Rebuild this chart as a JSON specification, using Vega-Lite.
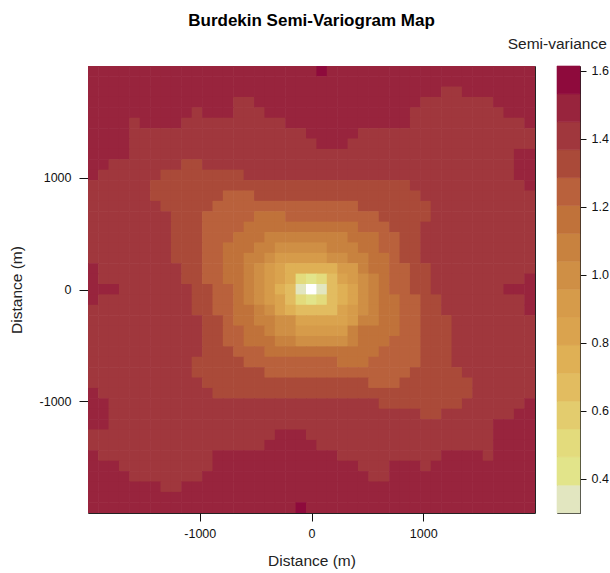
{"$schema":"https://vega.github.io/schema/vega-lite/v6.json","background":"white","padding":{"left":8,"top":11,"right":0,"bottom":0},"spacing":22,"bounds":"flush","config":{"view":{"stroke":"#222","strokeWidth":1},"font":"Liberation Sans","title":{"font":"Liberation Sans"},"axis":{"grid":false,"labelFont":"Liberation Sans","titleFont":"Liberation Sans","labelFontSize":12.5,"titleFontSize":15.5,"titleFontWeight":"normal","tickColor":"#111","tickSize":8,"domain":false,"labelColor":"#111","titleColor":"#222"}},"hconcat":[{"width":447,"height":447,"title":{"text":"Burdekin Semi-Variogram Map","fontSize":17,"fontWeight":"bold","color":"#000","offset":36,"anchor":"middle"},"data":{"values":[
{"x":-1953,"y":1953,"v":1.49},{"x":-1860,"y":1953,"v":1.49},{"x":-1767,"y":1953,"v":1.49},{"x":-1674,"y":1953,"v":1.49},{"x":-1581,"y":1953,"v":1.49},{"x":-1488,"y":1953,"v":1.49},{"x":-1395,"y":1953,"v":1.49},{"x":-1302,"y":1953,"v":1.49},{"x":-1209,"y":1953,"v":1.49},{"x":-1116,"y":1953,"v":1.49},{"x":-1023,"y":1953,"v":1.49},{"x":-930,"y":1953,"v":1.49},{"x":-837,"y":1953,"v":1.49},{"x":-744,"y":1953,"v":1.49},{"x":-651,"y":1953,"v":1.49},{"x":-558,"y":1953,"v":1.49},{"x":-465,"y":1953,"v":1.49},{"x":-372,"y":1953,"v":1.49},{"x":-279,"y":1953,"v":1.49},{"x":-186,"y":1953,"v":1.49},{"x":-93,"y":1953,"v":1.49},{"x":0,"y":1953,"v":1.49},{"x":93,"y":1953,"v":1.57},{"x":186,"y":1953,"v":1.49},{"x":279,"y":1953,"v":1.49},{"x":372,"y":1953,"v":1.49},{"x":465,"y":1953,"v":1.49},{"x":558,"y":1953,"v":1.49},{"x":651,"y":1953,"v":1.49},{"x":744,"y":1953,"v":1.49},{"x":837,"y":1953,"v":1.49},{"x":930,"y":1953,"v":1.49},{"x":1023,"y":1953,"v":1.49},{"x":1116,"y":1953,"v":1.49},{"x":1209,"y":1953,"v":1.49},{"x":1302,"y":1953,"v":1.49},{"x":1395,"y":1953,"v":1.49},{"x":1488,"y":1953,"v":1.49},{"x":1581,"y":1953,"v":1.49},{"x":1674,"y":1953,"v":1.49},{"x":1767,"y":1953,"v":1.49},{"x":1860,"y":1953,"v":1.49},{"x":1953,"y":1953,"v":1.49},
{"x":-1953,"y":1860,"v":1.49},{"x":-1860,"y":1860,"v":1.49},{"x":-1767,"y":1860,"v":1.49},{"x":-1674,"y":1860,"v":1.49},{"x":-1581,"y":1860,"v":1.49},{"x":-1488,"y":1860,"v":1.49},{"x":-1395,"y":1860,"v":1.49},{"x":-1302,"y":1860,"v":1.49},{"x":-1209,"y":1860,"v":1.49},{"x":-1116,"y":1860,"v":1.49},{"x":-1023,"y":1860,"v":1.49},{"x":-930,"y":1860,"v":1.49},{"x":-837,"y":1860,"v":1.49},{"x":-744,"y":1860,"v":1.49},{"x":-651,"y":1860,"v":1.49},{"x":-558,"y":1860,"v":1.49},{"x":-465,"y":1860,"v":1.49},{"x":-372,"y":1860,"v":1.49},{"x":-279,"y":1860,"v":1.49},{"x":-186,"y":1860,"v":1.49},{"x":-93,"y":1860,"v":1.49},{"x":0,"y":1860,"v":1.49},{"x":93,"y":1860,"v":1.49},{"x":186,"y":1860,"v":1.49},{"x":279,"y":1860,"v":1.49},{"x":372,"y":1860,"v":1.49},{"x":465,"y":1860,"v":1.49},{"x":558,"y":1860,"v":1.49},{"x":651,"y":1860,"v":1.49},{"x":744,"y":1860,"v":1.49},{"x":837,"y":1860,"v":1.49},{"x":930,"y":1860,"v":1.49},{"x":1023,"y":1860,"v":1.49},{"x":1116,"y":1860,"v":1.49},{"x":1209,"y":1860,"v":1.49},{"x":1302,"y":1860,"v":1.49},{"x":1395,"y":1860,"v":1.49},{"x":1488,"y":1860,"v":1.49},{"x":1581,"y":1860,"v":1.49},{"x":1674,"y":1860,"v":1.49},{"x":1767,"y":1860,"v":1.49},{"x":1860,"y":1860,"v":1.49},{"x":1953,"y":1860,"v":1.49},
{"x":-1953,"y":1767,"v":1.49},{"x":-1860,"y":1767,"v":1.49},{"x":-1767,"y":1767,"v":1.49},{"x":-1674,"y":1767,"v":1.49},{"x":-1581,"y":1767,"v":1.49},{"x":-1488,"y":1767,"v":1.49},{"x":-1395,"y":1767,"v":1.49},{"x":-1302,"y":1767,"v":1.49},{"x":-1209,"y":1767,"v":1.49},{"x":-1116,"y":1767,"v":1.49},{"x":-1023,"y":1767,"v":1.49},{"x":-930,"y":1767,"v":1.49},{"x":-837,"y":1767,"v":1.49},{"x":-744,"y":1767,"v":1.49},{"x":-651,"y":1767,"v":1.49},{"x":-558,"y":1767,"v":1.49},{"x":-465,"y":1767,"v":1.49},{"x":-372,"y":1767,"v":1.49},{"x":-279,"y":1767,"v":1.49},{"x":-186,"y":1767,"v":1.49},{"x":-93,"y":1767,"v":1.49},{"x":0,"y":1767,"v":1.49},{"x":93,"y":1767,"v":1.49},{"x":186,"y":1767,"v":1.49},{"x":279,"y":1767,"v":1.49},{"x":372,"y":1767,"v":1.49},{"x":465,"y":1767,"v":1.49},{"x":558,"y":1767,"v":1.49},{"x":651,"y":1767,"v":1.49},{"x":744,"y":1767,"v":1.49},{"x":837,"y":1767,"v":1.49},{"x":930,"y":1767,"v":1.49},{"x":1023,"y":1767,"v":1.49},{"x":1116,"y":1767,"v":1.49},{"x":1209,"y":1767,"v":1.41},{"x":1302,"y":1767,"v":1.41},{"x":1395,"y":1767,"v":1.49},{"x":1488,"y":1767,"v":1.49},{"x":1581,"y":1767,"v":1.49},{"x":1674,"y":1767,"v":1.49},{"x":1767,"y":1767,"v":1.49},{"x":1860,"y":1767,"v":1.49},{"x":1953,"y":1767,"v":1.49},
{"x":-1953,"y":1674,"v":1.49},{"x":-1860,"y":1674,"v":1.49},{"x":-1767,"y":1674,"v":1.49},{"x":-1674,"y":1674,"v":1.49},{"x":-1581,"y":1674,"v":1.49},{"x":-1488,"y":1674,"v":1.49},{"x":-1395,"y":1674,"v":1.49},{"x":-1302,"y":1674,"v":1.49},{"x":-1209,"y":1674,"v":1.49},{"x":-1116,"y":1674,"v":1.49},{"x":-1023,"y":1674,"v":1.49},{"x":-930,"y":1674,"v":1.49},{"x":-837,"y":1674,"v":1.49},{"x":-744,"y":1674,"v":1.49},{"x":-651,"y":1674,"v":1.41},{"x":-558,"y":1674,"v":1.41},{"x":-465,"y":1674,"v":1.49},{"x":-372,"y":1674,"v":1.49},{"x":-279,"y":1674,"v":1.49},{"x":-186,"y":1674,"v":1.49},{"x":-93,"y":1674,"v":1.49},{"x":0,"y":1674,"v":1.49},{"x":93,"y":1674,"v":1.49},{"x":186,"y":1674,"v":1.49},{"x":279,"y":1674,"v":1.49},{"x":372,"y":1674,"v":1.49},{"x":465,"y":1674,"v":1.49},{"x":558,"y":1674,"v":1.49},{"x":651,"y":1674,"v":1.49},{"x":744,"y":1674,"v":1.49},{"x":837,"y":1674,"v":1.49},{"x":930,"y":1674,"v":1.49},{"x":1023,"y":1674,"v":1.41},{"x":1116,"y":1674,"v":1.41},{"x":1209,"y":1674,"v":1.41},{"x":1302,"y":1674,"v":1.41},{"x":1395,"y":1674,"v":1.41},{"x":1488,"y":1674,"v":1.41},{"x":1581,"y":1674,"v":1.41},{"x":1674,"y":1674,"v":1.49},{"x":1767,"y":1674,"v":1.49},{"x":1860,"y":1674,"v":1.49},{"x":1953,"y":1674,"v":1.49},
{"x":-1953,"y":1581,"v":1.49},{"x":-1860,"y":1581,"v":1.49},{"x":-1767,"y":1581,"v":1.49},{"x":-1674,"y":1581,"v":1.49},{"x":-1581,"y":1581,"v":1.49},{"x":-1488,"y":1581,"v":1.49},{"x":-1395,"y":1581,"v":1.49},{"x":-1302,"y":1581,"v":1.49},{"x":-1209,"y":1581,"v":1.49},{"x":-1116,"y":1581,"v":1.49},{"x":-1023,"y":1581,"v":1.41},{"x":-930,"y":1581,"v":1.49},{"x":-837,"y":1581,"v":1.49},{"x":-744,"y":1581,"v":1.49},{"x":-651,"y":1581,"v":1.41},{"x":-558,"y":1581,"v":1.41},{"x":-465,"y":1581,"v":1.41},{"x":-372,"y":1581,"v":1.49},{"x":-279,"y":1581,"v":1.49},{"x":-186,"y":1581,"v":1.49},{"x":-93,"y":1581,"v":1.49},{"x":0,"y":1581,"v":1.49},{"x":93,"y":1581,"v":1.49},{"x":186,"y":1581,"v":1.49},{"x":279,"y":1581,"v":1.49},{"x":372,"y":1581,"v":1.49},{"x":465,"y":1581,"v":1.49},{"x":558,"y":1581,"v":1.49},{"x":651,"y":1581,"v":1.49},{"x":744,"y":1581,"v":1.49},{"x":837,"y":1581,"v":1.49},{"x":930,"y":1581,"v":1.41},{"x":1023,"y":1581,"v":1.41},{"x":1116,"y":1581,"v":1.41},{"x":1209,"y":1581,"v":1.41},{"x":1302,"y":1581,"v":1.41},{"x":1395,"y":1581,"v":1.41},{"x":1488,"y":1581,"v":1.41},{"x":1581,"y":1581,"v":1.41},{"x":1674,"y":1581,"v":1.41},{"x":1767,"y":1581,"v":1.49},{"x":1860,"y":1581,"v":1.49},{"x":1953,"y":1581,"v":1.49},
{"x":-1953,"y":1488,"v":1.49},{"x":-1860,"y":1488,"v":1.49},{"x":-1767,"y":1488,"v":1.49},{"x":-1674,"y":1488,"v":1.49},{"x":-1581,"y":1488,"v":1.41},{"x":-1488,"y":1488,"v":1.49},{"x":-1395,"y":1488,"v":1.49},{"x":-1302,"y":1488,"v":1.49},{"x":-1209,"y":1488,"v":1.49},{"x":-1116,"y":1488,"v":1.41},{"x":-1023,"y":1488,"v":1.41},{"x":-930,"y":1488,"v":1.41},{"x":-837,"y":1488,"v":1.41},{"x":-744,"y":1488,"v":1.41},{"x":-651,"y":1488,"v":1.41},{"x":-558,"y":1488,"v":1.41},{"x":-465,"y":1488,"v":1.41},{"x":-372,"y":1488,"v":1.41},{"x":-279,"y":1488,"v":1.41},{"x":-186,"y":1488,"v":1.49},{"x":-93,"y":1488,"v":1.49},{"x":0,"y":1488,"v":1.49},{"x":93,"y":1488,"v":1.49},{"x":186,"y":1488,"v":1.49},{"x":279,"y":1488,"v":1.49},{"x":372,"y":1488,"v":1.49},{"x":465,"y":1488,"v":1.49},{"x":558,"y":1488,"v":1.49},{"x":651,"y":1488,"v":1.49},{"x":744,"y":1488,"v":1.49},{"x":837,"y":1488,"v":1.49},{"x":930,"y":1488,"v":1.41},{"x":1023,"y":1488,"v":1.41},{"x":1116,"y":1488,"v":1.41},{"x":1209,"y":1488,"v":1.41},{"x":1302,"y":1488,"v":1.41},{"x":1395,"y":1488,"v":1.41},{"x":1488,"y":1488,"v":1.41},{"x":1581,"y":1488,"v":1.41},{"x":1674,"y":1488,"v":1.41},{"x":1767,"y":1488,"v":1.41},{"x":1860,"y":1488,"v":1.41},{"x":1953,"y":1488,"v":1.49},
{"x":-1953,"y":1395,"v":1.49},{"x":-1860,"y":1395,"v":1.49},{"x":-1767,"y":1395,"v":1.49},{"x":-1674,"y":1395,"v":1.49},{"x":-1581,"y":1395,"v":1.41},{"x":-1488,"y":1395,"v":1.41},{"x":-1395,"y":1395,"v":1.41},{"x":-1302,"y":1395,"v":1.41},{"x":-1209,"y":1395,"v":1.41},{"x":-1116,"y":1395,"v":1.41},{"x":-1023,"y":1395,"v":1.41},{"x":-930,"y":1395,"v":1.41},{"x":-837,"y":1395,"v":1.41},{"x":-744,"y":1395,"v":1.41},{"x":-651,"y":1395,"v":1.41},{"x":-558,"y":1395,"v":1.41},{"x":-465,"y":1395,"v":1.41},{"x":-372,"y":1395,"v":1.41},{"x":-279,"y":1395,"v":1.41},{"x":-186,"y":1395,"v":1.41},{"x":-93,"y":1395,"v":1.41},{"x":0,"y":1395,"v":1.49},{"x":93,"y":1395,"v":1.49},{"x":186,"y":1395,"v":1.49},{"x":279,"y":1395,"v":1.49},{"x":372,"y":1395,"v":1.49},{"x":465,"y":1395,"v":1.41},{"x":558,"y":1395,"v":1.41},{"x":651,"y":1395,"v":1.41},{"x":744,"y":1395,"v":1.41},{"x":837,"y":1395,"v":1.41},{"x":930,"y":1395,"v":1.41},{"x":1023,"y":1395,"v":1.41},{"x":1116,"y":1395,"v":1.41},{"x":1209,"y":1395,"v":1.41},{"x":1302,"y":1395,"v":1.41},{"x":1395,"y":1395,"v":1.41},{"x":1488,"y":1395,"v":1.41},{"x":1581,"y":1395,"v":1.41},{"x":1674,"y":1395,"v":1.41},{"x":1767,"y":1395,"v":1.41},{"x":1860,"y":1395,"v":1.41},{"x":1953,"y":1395,"v":1.41},
{"x":-1953,"y":1302,"v":1.49},{"x":-1860,"y":1302,"v":1.49},{"x":-1767,"y":1302,"v":1.49},{"x":-1674,"y":1302,"v":1.49},{"x":-1581,"y":1302,"v":1.41},{"x":-1488,"y":1302,"v":1.41},{"x":-1395,"y":1302,"v":1.41},{"x":-1302,"y":1302,"v":1.41},{"x":-1209,"y":1302,"v":1.41},{"x":-1116,"y":1302,"v":1.41},{"x":-1023,"y":1302,"v":1.41},{"x":-930,"y":1302,"v":1.41},{"x":-837,"y":1302,"v":1.41},{"x":-744,"y":1302,"v":1.41},{"x":-651,"y":1302,"v":1.41},{"x":-558,"y":1302,"v":1.41},{"x":-465,"y":1302,"v":1.41},{"x":-372,"y":1302,"v":1.41},{"x":-279,"y":1302,"v":1.41},{"x":-186,"y":1302,"v":1.41},{"x":-93,"y":1302,"v":1.41},{"x":0,"y":1302,"v":1.41},{"x":93,"y":1302,"v":1.49},{"x":186,"y":1302,"v":1.49},{"x":279,"y":1302,"v":1.49},{"x":372,"y":1302,"v":1.41},{"x":465,"y":1302,"v":1.41},{"x":558,"y":1302,"v":1.41},{"x":651,"y":1302,"v":1.41},{"x":744,"y":1302,"v":1.41},{"x":837,"y":1302,"v":1.41},{"x":930,"y":1302,"v":1.41},{"x":1023,"y":1302,"v":1.41},{"x":1116,"y":1302,"v":1.41},{"x":1209,"y":1302,"v":1.41},{"x":1302,"y":1302,"v":1.41},{"x":1395,"y":1302,"v":1.41},{"x":1488,"y":1302,"v":1.41},{"x":1581,"y":1302,"v":1.41},{"x":1674,"y":1302,"v":1.41},{"x":1767,"y":1302,"v":1.41},{"x":1860,"y":1302,"v":1.41},{"x":1953,"y":1302,"v":1.41},
{"x":-1953,"y":1209,"v":1.49},{"x":-1860,"y":1209,"v":1.49},{"x":-1767,"y":1209,"v":1.49},{"x":-1674,"y":1209,"v":1.49},{"x":-1581,"y":1209,"v":1.41},{"x":-1488,"y":1209,"v":1.41},{"x":-1395,"y":1209,"v":1.41},{"x":-1302,"y":1209,"v":1.41},{"x":-1209,"y":1209,"v":1.41},{"x":-1116,"y":1209,"v":1.41},{"x":-1023,"y":1209,"v":1.41},{"x":-930,"y":1209,"v":1.41},{"x":-837,"y":1209,"v":1.41},{"x":-744,"y":1209,"v":1.41},{"x":-651,"y":1209,"v":1.41},{"x":-558,"y":1209,"v":1.41},{"x":-465,"y":1209,"v":1.41},{"x":-372,"y":1209,"v":1.41},{"x":-279,"y":1209,"v":1.41},{"x":-186,"y":1209,"v":1.41},{"x":-93,"y":1209,"v":1.41},{"x":0,"y":1209,"v":1.41},{"x":93,"y":1209,"v":1.41},{"x":186,"y":1209,"v":1.41},{"x":279,"y":1209,"v":1.41},{"x":372,"y":1209,"v":1.41},{"x":465,"y":1209,"v":1.41},{"x":558,"y":1209,"v":1.41},{"x":651,"y":1209,"v":1.41},{"x":744,"y":1209,"v":1.41},{"x":837,"y":1209,"v":1.41},{"x":930,"y":1209,"v":1.41},{"x":1023,"y":1209,"v":1.41},{"x":1116,"y":1209,"v":1.41},{"x":1209,"y":1209,"v":1.41},{"x":1302,"y":1209,"v":1.41},{"x":1395,"y":1209,"v":1.41},{"x":1488,"y":1209,"v":1.41},{"x":1581,"y":1209,"v":1.41},{"x":1674,"y":1209,"v":1.41},{"x":1767,"y":1209,"v":1.41},{"x":1860,"y":1209,"v":1.49},{"x":1953,"y":1209,"v":1.49},
{"x":-1953,"y":1116,"v":1.49},{"x":-1860,"y":1116,"v":1.49},{"x":-1767,"y":1116,"v":1.41},{"x":-1674,"y":1116,"v":1.41},{"x":-1581,"y":1116,"v":1.41},{"x":-1488,"y":1116,"v":1.41},{"x":-1395,"y":1116,"v":1.41},{"x":-1302,"y":1116,"v":1.41},{"x":-1209,"y":1116,"v":1.41},{"x":-1116,"y":1116,"v":1.33},{"x":-1023,"y":1116,"v":1.33},{"x":-930,"y":1116,"v":1.41},{"x":-837,"y":1116,"v":1.41},{"x":-744,"y":1116,"v":1.41},{"x":-651,"y":1116,"v":1.41},{"x":-558,"y":1116,"v":1.41},{"x":-465,"y":1116,"v":1.41},{"x":-372,"y":1116,"v":1.41},{"x":-279,"y":1116,"v":1.41},{"x":-186,"y":1116,"v":1.41},{"x":-93,"y":1116,"v":1.41},{"x":0,"y":1116,"v":1.41},{"x":93,"y":1116,"v":1.41},{"x":186,"y":1116,"v":1.41},{"x":279,"y":1116,"v":1.41},{"x":372,"y":1116,"v":1.41},{"x":465,"y":1116,"v":1.41},{"x":558,"y":1116,"v":1.41},{"x":651,"y":1116,"v":1.41},{"x":744,"y":1116,"v":1.41},{"x":837,"y":1116,"v":1.41},{"x":930,"y":1116,"v":1.41},{"x":1023,"y":1116,"v":1.41},{"x":1116,"y":1116,"v":1.41},{"x":1209,"y":1116,"v":1.41},{"x":1302,"y":1116,"v":1.41},{"x":1395,"y":1116,"v":1.41},{"x":1488,"y":1116,"v":1.41},{"x":1581,"y":1116,"v":1.41},{"x":1674,"y":1116,"v":1.41},{"x":1767,"y":1116,"v":1.41},{"x":1860,"y":1116,"v":1.49},{"x":1953,"y":1116,"v":1.49},
{"x":-1953,"y":1023,"v":1.49},{"x":-1860,"y":1023,"v":1.41},{"x":-1767,"y":1023,"v":1.41},{"x":-1674,"y":1023,"v":1.41},{"x":-1581,"y":1023,"v":1.41},{"x":-1488,"y":1023,"v":1.41},{"x":-1395,"y":1023,"v":1.41},{"x":-1302,"y":1023,"v":1.33},{"x":-1209,"y":1023,"v":1.33},{"x":-1116,"y":1023,"v":1.33},{"x":-1023,"y":1023,"v":1.33},{"x":-930,"y":1023,"v":1.33},{"x":-837,"y":1023,"v":1.33},{"x":-744,"y":1023,"v":1.33},{"x":-651,"y":1023,"v":1.33},{"x":-558,"y":1023,"v":1.41},{"x":-465,"y":1023,"v":1.41},{"x":-372,"y":1023,"v":1.41},{"x":-279,"y":1023,"v":1.41},{"x":-186,"y":1023,"v":1.41},{"x":-93,"y":1023,"v":1.41},{"x":0,"y":1023,"v":1.41},{"x":93,"y":1023,"v":1.41},{"x":186,"y":1023,"v":1.41},{"x":279,"y":1023,"v":1.41},{"x":372,"y":1023,"v":1.41},{"x":465,"y":1023,"v":1.41},{"x":558,"y":1023,"v":1.41},{"x":651,"y":1023,"v":1.41},{"x":744,"y":1023,"v":1.41},{"x":837,"y":1023,"v":1.41},{"x":930,"y":1023,"v":1.41},{"x":1023,"y":1023,"v":1.41},{"x":1116,"y":1023,"v":1.41},{"x":1209,"y":1023,"v":1.41},{"x":1302,"y":1023,"v":1.41},{"x":1395,"y":1023,"v":1.41},{"x":1488,"y":1023,"v":1.41},{"x":1581,"y":1023,"v":1.41},{"x":1674,"y":1023,"v":1.41},{"x":1767,"y":1023,"v":1.41},{"x":1860,"y":1023,"v":1.49},{"x":1953,"y":1023,"v":1.49},
{"x":-1953,"y":930,"v":1.41},{"x":-1860,"y":930,"v":1.41},{"x":-1767,"y":930,"v":1.41},{"x":-1674,"y":930,"v":1.41},{"x":-1581,"y":930,"v":1.41},{"x":-1488,"y":930,"v":1.41},{"x":-1395,"y":930,"v":1.33},{"x":-1302,"y":930,"v":1.33},{"x":-1209,"y":930,"v":1.33},{"x":-1116,"y":930,"v":1.33},{"x":-1023,"y":930,"v":1.33},{"x":-930,"y":930,"v":1.33},{"x":-837,"y":930,"v":1.33},{"x":-744,"y":930,"v":1.33},{"x":-651,"y":930,"v":1.33},{"x":-558,"y":930,"v":1.33},{"x":-465,"y":930,"v":1.33},{"x":-372,"y":930,"v":1.33},{"x":-279,"y":930,"v":1.33},{"x":-186,"y":930,"v":1.33},{"x":-93,"y":930,"v":1.33},{"x":0,"y":930,"v":1.33},{"x":93,"y":930,"v":1.33},{"x":186,"y":930,"v":1.33},{"x":279,"y":930,"v":1.33},{"x":372,"y":930,"v":1.33},{"x":465,"y":930,"v":1.33},{"x":558,"y":930,"v":1.33},{"x":651,"y":930,"v":1.33},{"x":744,"y":930,"v":1.33},{"x":837,"y":930,"v":1.33},{"x":930,"y":930,"v":1.41},{"x":1023,"y":930,"v":1.41},{"x":1116,"y":930,"v":1.41},{"x":1209,"y":930,"v":1.41},{"x":1302,"y":930,"v":1.41},{"x":1395,"y":930,"v":1.41},{"x":1488,"y":930,"v":1.41},{"x":1581,"y":930,"v":1.41},{"x":1674,"y":930,"v":1.41},{"x":1767,"y":930,"v":1.41},{"x":1860,"y":930,"v":1.41},{"x":1953,"y":930,"v":1.49},
{"x":-1953,"y":837,"v":1.41},{"x":-1860,"y":837,"v":1.41},{"x":-1767,"y":837,"v":1.41},{"x":-1674,"y":837,"v":1.41},{"x":-1581,"y":837,"v":1.41},{"x":-1488,"y":837,"v":1.41},{"x":-1395,"y":837,"v":1.33},{"x":-1302,"y":837,"v":1.33},{"x":-1209,"y":837,"v":1.33},{"x":-1116,"y":837,"v":1.33},{"x":-1023,"y":837,"v":1.33},{"x":-930,"y":837,"v":1.33},{"x":-837,"y":837,"v":1.33},{"x":-744,"y":837,"v":1.25},{"x":-651,"y":837,"v":1.25},{"x":-558,"y":837,"v":1.25},{"x":-465,"y":837,"v":1.33},{"x":-372,"y":837,"v":1.33},{"x":-279,"y":837,"v":1.33},{"x":-186,"y":837,"v":1.33},{"x":-93,"y":837,"v":1.33},{"x":0,"y":837,"v":1.33},{"x":93,"y":837,"v":1.33},{"x":186,"y":837,"v":1.33},{"x":279,"y":837,"v":1.33},{"x":372,"y":837,"v":1.33},{"x":465,"y":837,"v":1.33},{"x":558,"y":837,"v":1.33},{"x":651,"y":837,"v":1.33},{"x":744,"y":837,"v":1.33},{"x":837,"y":837,"v":1.33},{"x":930,"y":837,"v":1.33},{"x":1023,"y":837,"v":1.41},{"x":1116,"y":837,"v":1.41},{"x":1209,"y":837,"v":1.41},{"x":1302,"y":837,"v":1.41},{"x":1395,"y":837,"v":1.41},{"x":1488,"y":837,"v":1.41},{"x":1581,"y":837,"v":1.41},{"x":1674,"y":837,"v":1.41},{"x":1767,"y":837,"v":1.41},{"x":1860,"y":837,"v":1.41},{"x":1953,"y":837,"v":1.41},
{"x":-1953,"y":744,"v":1.41},{"x":-1860,"y":744,"v":1.41},{"x":-1767,"y":744,"v":1.41},{"x":-1674,"y":744,"v":1.41},{"x":-1581,"y":744,"v":1.41},{"x":-1488,"y":744,"v":1.41},{"x":-1395,"y":744,"v":1.41},{"x":-1302,"y":744,"v":1.33},{"x":-1209,"y":744,"v":1.33},{"x":-1116,"y":744,"v":1.33},{"x":-1023,"y":744,"v":1.33},{"x":-930,"y":744,"v":1.33},{"x":-837,"y":744,"v":1.25},{"x":-744,"y":744,"v":1.25},{"x":-651,"y":744,"v":1.25},{"x":-558,"y":744,"v":1.25},{"x":-465,"y":744,"v":1.25},{"x":-372,"y":744,"v":1.25},{"x":-279,"y":744,"v":1.25},{"x":-186,"y":744,"v":1.25},{"x":-93,"y":744,"v":1.25},{"x":0,"y":744,"v":1.25},{"x":93,"y":744,"v":1.25},{"x":186,"y":744,"v":1.25},{"x":279,"y":744,"v":1.25},{"x":372,"y":744,"v":1.25},{"x":465,"y":744,"v":1.33},{"x":558,"y":744,"v":1.33},{"x":651,"y":744,"v":1.33},{"x":744,"y":744,"v":1.33},{"x":837,"y":744,"v":1.33},{"x":930,"y":744,"v":1.33},{"x":1023,"y":744,"v":1.33},{"x":1116,"y":744,"v":1.41},{"x":1209,"y":744,"v":1.41},{"x":1302,"y":744,"v":1.41},{"x":1395,"y":744,"v":1.41},{"x":1488,"y":744,"v":1.41},{"x":1581,"y":744,"v":1.41},{"x":1674,"y":744,"v":1.41},{"x":1767,"y":744,"v":1.41},{"x":1860,"y":744,"v":1.41},{"x":1953,"y":744,"v":1.41},
{"x":-1953,"y":651,"v":1.41},{"x":-1860,"y":651,"v":1.41},{"x":-1767,"y":651,"v":1.41},{"x":-1674,"y":651,"v":1.41},{"x":-1581,"y":651,"v":1.41},{"x":-1488,"y":651,"v":1.41},{"x":-1395,"y":651,"v":1.41},{"x":-1302,"y":651,"v":1.41},{"x":-1209,"y":651,"v":1.33},{"x":-1116,"y":651,"v":1.33},{"x":-1023,"y":651,"v":1.33},{"x":-930,"y":651,"v":1.25},{"x":-837,"y":651,"v":1.25},{"x":-744,"y":651,"v":1.25},{"x":-651,"y":651,"v":1.25},{"x":-558,"y":651,"v":1.25},{"x":-465,"y":651,"v":1.16},{"x":-372,"y":651,"v":1.16},{"x":-279,"y":651,"v":1.16},{"x":-186,"y":651,"v":1.25},{"x":-93,"y":651,"v":1.25},{"x":0,"y":651,"v":1.25},{"x":93,"y":651,"v":1.25},{"x":186,"y":651,"v":1.25},{"x":279,"y":651,"v":1.25},{"x":372,"y":651,"v":1.25},{"x":465,"y":651,"v":1.25},{"x":558,"y":651,"v":1.25},{"x":651,"y":651,"v":1.33},{"x":744,"y":651,"v":1.33},{"x":837,"y":651,"v":1.33},{"x":930,"y":651,"v":1.33},{"x":1023,"y":651,"v":1.33},{"x":1116,"y":651,"v":1.41},{"x":1209,"y":651,"v":1.41},{"x":1302,"y":651,"v":1.41},{"x":1395,"y":651,"v":1.41},{"x":1488,"y":651,"v":1.41},{"x":1581,"y":651,"v":1.41},{"x":1674,"y":651,"v":1.41},{"x":1767,"y":651,"v":1.41},{"x":1860,"y":651,"v":1.41},{"x":1953,"y":651,"v":1.41},
{"x":-1953,"y":558,"v":1.41},{"x":-1860,"y":558,"v":1.41},{"x":-1767,"y":558,"v":1.41},{"x":-1674,"y":558,"v":1.41},{"x":-1581,"y":558,"v":1.41},{"x":-1488,"y":558,"v":1.41},{"x":-1395,"y":558,"v":1.41},{"x":-1302,"y":558,"v":1.41},{"x":-1209,"y":558,"v":1.33},{"x":-1116,"y":558,"v":1.33},{"x":-1023,"y":558,"v":1.33},{"x":-930,"y":558,"v":1.25},{"x":-837,"y":558,"v":1.25},{"x":-744,"y":558,"v":1.25},{"x":-651,"y":558,"v":1.25},{"x":-558,"y":558,"v":1.16},{"x":-465,"y":558,"v":1.16},{"x":-372,"y":558,"v":1.16},{"x":-279,"y":558,"v":1.16},{"x":-186,"y":558,"v":1.16},{"x":-93,"y":558,"v":1.16},{"x":0,"y":558,"v":1.16},{"x":93,"y":558,"v":1.16},{"x":186,"y":558,"v":1.16},{"x":279,"y":558,"v":1.16},{"x":372,"y":558,"v":1.16},{"x":465,"y":558,"v":1.25},{"x":558,"y":558,"v":1.25},{"x":651,"y":558,"v":1.25},{"x":744,"y":558,"v":1.33},{"x":837,"y":558,"v":1.33},{"x":930,"y":558,"v":1.33},{"x":1023,"y":558,"v":1.41},{"x":1116,"y":558,"v":1.41},{"x":1209,"y":558,"v":1.41},{"x":1302,"y":558,"v":1.41},{"x":1395,"y":558,"v":1.41},{"x":1488,"y":558,"v":1.41},{"x":1581,"y":558,"v":1.41},{"x":1674,"y":558,"v":1.41},{"x":1767,"y":558,"v":1.41},{"x":1860,"y":558,"v":1.41},{"x":1953,"y":558,"v":1.41},
{"x":-1953,"y":465,"v":1.41},{"x":-1860,"y":465,"v":1.41},{"x":-1767,"y":465,"v":1.41},{"x":-1674,"y":465,"v":1.41},{"x":-1581,"y":465,"v":1.41},{"x":-1488,"y":465,"v":1.41},{"x":-1395,"y":465,"v":1.41},{"x":-1302,"y":465,"v":1.41},{"x":-1209,"y":465,"v":1.33},{"x":-1116,"y":465,"v":1.33},{"x":-1023,"y":465,"v":1.33},{"x":-930,"y":465,"v":1.25},{"x":-837,"y":465,"v":1.25},{"x":-744,"y":465,"v":1.25},{"x":-651,"y":465,"v":1.16},{"x":-558,"y":465,"v":1.16},{"x":-465,"y":465,"v":1.16},{"x":-372,"y":465,"v":1.08},{"x":-279,"y":465,"v":1.08},{"x":-186,"y":465,"v":1.08},{"x":-93,"y":465,"v":1.08},{"x":0,"y":465,"v":1.08},{"x":93,"y":465,"v":1.08},{"x":186,"y":465,"v":1.08},{"x":279,"y":465,"v":1.08},{"x":372,"y":465,"v":1.16},{"x":465,"y":465,"v":1.16},{"x":558,"y":465,"v":1.16},{"x":651,"y":465,"v":1.25},{"x":744,"y":465,"v":1.25},{"x":837,"y":465,"v":1.33},{"x":930,"y":465,"v":1.33},{"x":1023,"y":465,"v":1.41},{"x":1116,"y":465,"v":1.41},{"x":1209,"y":465,"v":1.41},{"x":1302,"y":465,"v":1.41},{"x":1395,"y":465,"v":1.41},{"x":1488,"y":465,"v":1.41},{"x":1581,"y":465,"v":1.41},{"x":1674,"y":465,"v":1.41},{"x":1767,"y":465,"v":1.41},{"x":1860,"y":465,"v":1.41},{"x":1953,"y":465,"v":1.41},
{"x":-1953,"y":372,"v":1.41},{"x":-1860,"y":372,"v":1.41},{"x":-1767,"y":372,"v":1.41},{"x":-1674,"y":372,"v":1.41},{"x":-1581,"y":372,"v":1.41},{"x":-1488,"y":372,"v":1.41},{"x":-1395,"y":372,"v":1.41},{"x":-1302,"y":372,"v":1.41},{"x":-1209,"y":372,"v":1.33},{"x":-1116,"y":372,"v":1.33},{"x":-1023,"y":372,"v":1.33},{"x":-930,"y":372,"v":1.25},{"x":-837,"y":372,"v":1.25},{"x":-744,"y":372,"v":1.16},{"x":-651,"y":372,"v":1.16},{"x":-558,"y":372,"v":1.16},{"x":-465,"y":372,"v":1.08},{"x":-372,"y":372,"v":1.08},{"x":-279,"y":372,"v":1.0},{"x":-186,"y":372,"v":1.0},{"x":-93,"y":372,"v":1.0},{"x":0,"y":372,"v":1.0},{"x":93,"y":372,"v":1.0},{"x":186,"y":372,"v":1.08},{"x":279,"y":372,"v":1.08},{"x":372,"y":372,"v":1.08},{"x":465,"y":372,"v":1.16},{"x":558,"y":372,"v":1.16},{"x":651,"y":372,"v":1.25},{"x":744,"y":372,"v":1.25},{"x":837,"y":372,"v":1.33},{"x":930,"y":372,"v":1.33},{"x":1023,"y":372,"v":1.41},{"x":1116,"y":372,"v":1.41},{"x":1209,"y":372,"v":1.41},{"x":1302,"y":372,"v":1.41},{"x":1395,"y":372,"v":1.41},{"x":1488,"y":372,"v":1.41},{"x":1581,"y":372,"v":1.41},{"x":1674,"y":372,"v":1.41},{"x":1767,"y":372,"v":1.41},{"x":1860,"y":372,"v":1.41},{"x":1953,"y":372,"v":1.41},
{"x":-1953,"y":279,"v":1.41},{"x":-1860,"y":279,"v":1.41},{"x":-1767,"y":279,"v":1.41},{"x":-1674,"y":279,"v":1.41},{"x":-1581,"y":279,"v":1.41},{"x":-1488,"y":279,"v":1.41},{"x":-1395,"y":279,"v":1.41},{"x":-1302,"y":279,"v":1.41},{"x":-1209,"y":279,"v":1.33},{"x":-1116,"y":279,"v":1.33},{"x":-1023,"y":279,"v":1.33},{"x":-930,"y":279,"v":1.25},{"x":-837,"y":279,"v":1.25},{"x":-744,"y":279,"v":1.16},{"x":-651,"y":279,"v":1.16},{"x":-558,"y":279,"v":1.08},{"x":-465,"y":279,"v":1.08},{"x":-372,"y":279,"v":1.0},{"x":-279,"y":279,"v":0.92},{"x":-186,"y":279,"v":0.92},{"x":-93,"y":279,"v":0.92},{"x":0,"y":279,"v":0.92},{"x":93,"y":279,"v":0.92},{"x":186,"y":279,"v":1.0},{"x":279,"y":279,"v":1.0},{"x":372,"y":279,"v":1.08},{"x":465,"y":279,"v":1.08},{"x":558,"y":279,"v":1.16},{"x":651,"y":279,"v":1.16},{"x":744,"y":279,"v":1.25},{"x":837,"y":279,"v":1.33},{"x":930,"y":279,"v":1.33},{"x":1023,"y":279,"v":1.41},{"x":1116,"y":279,"v":1.41},{"x":1209,"y":279,"v":1.41},{"x":1302,"y":279,"v":1.41},{"x":1395,"y":279,"v":1.41},{"x":1488,"y":279,"v":1.41},{"x":1581,"y":279,"v":1.41},{"x":1674,"y":279,"v":1.41},{"x":1767,"y":279,"v":1.41},{"x":1860,"y":279,"v":1.41},{"x":1953,"y":279,"v":1.41},
{"x":-1953,"y":186,"v":1.49},{"x":-1860,"y":186,"v":1.41},{"x":-1767,"y":186,"v":1.41},{"x":-1674,"y":186,"v":1.41},{"x":-1581,"y":186,"v":1.41},{"x":-1488,"y":186,"v":1.41},{"x":-1395,"y":186,"v":1.41},{"x":-1302,"y":186,"v":1.41},{"x":-1209,"y":186,"v":1.41},{"x":-1116,"y":186,"v":1.33},{"x":-1023,"y":186,"v":1.33},{"x":-930,"y":186,"v":1.25},{"x":-837,"y":186,"v":1.25},{"x":-744,"y":186,"v":1.16},{"x":-651,"y":186,"v":1.16},{"x":-558,"y":186,"v":1.08},{"x":-465,"y":186,"v":1.0},{"x":-372,"y":186,"v":0.92},{"x":-279,"y":186,"v":0.84},{"x":-186,"y":186,"v":0.75},{"x":-93,"y":186,"v":0.75},{"x":0,"y":186,"v":0.75},{"x":93,"y":186,"v":0.75},{"x":186,"y":186,"v":0.75},{"x":279,"y":186,"v":0.92},{"x":372,"y":186,"v":0.92},{"x":465,"y":186,"v":1.08},{"x":558,"y":186,"v":1.16},{"x":651,"y":186,"v":1.16},{"x":744,"y":186,"v":1.25},{"x":837,"y":186,"v":1.25},{"x":930,"y":186,"v":1.33},{"x":1023,"y":186,"v":1.33},{"x":1116,"y":186,"v":1.41},{"x":1209,"y":186,"v":1.41},{"x":1302,"y":186,"v":1.41},{"x":1395,"y":186,"v":1.41},{"x":1488,"y":186,"v":1.41},{"x":1581,"y":186,"v":1.41},{"x":1674,"y":186,"v":1.41},{"x":1767,"y":186,"v":1.41},{"x":1860,"y":186,"v":1.41},{"x":1953,"y":186,"v":1.41},
{"x":-1953,"y":93,"v":1.49},{"x":-1860,"y":93,"v":1.41},{"x":-1767,"y":93,"v":1.41},{"x":-1674,"y":93,"v":1.41},{"x":-1581,"y":93,"v":1.41},{"x":-1488,"y":93,"v":1.41},{"x":-1395,"y":93,"v":1.41},{"x":-1302,"y":93,"v":1.41},{"x":-1209,"y":93,"v":1.41},{"x":-1116,"y":93,"v":1.33},{"x":-1023,"y":93,"v":1.33},{"x":-930,"y":93,"v":1.25},{"x":-837,"y":93,"v":1.25},{"x":-744,"y":93,"v":1.16},{"x":-651,"y":93,"v":1.16},{"x":-558,"y":93,"v":1.08},{"x":-465,"y":93,"v":1.0},{"x":-372,"y":93,"v":0.92},{"x":-279,"y":93,"v":0.84},{"x":-186,"y":93,"v":0.75},{"x":-93,"y":93,"v":0.51},{"x":0,"y":93,"v":0.42},{"x":93,"y":93,"v":0.51},{"x":186,"y":93,"v":0.67},{"x":279,"y":93,"v":0.84},{"x":372,"y":93,"v":0.92},{"x":465,"y":93,"v":1.0},{"x":558,"y":93,"v":1.08},{"x":651,"y":93,"v":1.16},{"x":744,"y":93,"v":1.25},{"x":837,"y":93,"v":1.25},{"x":930,"y":93,"v":1.33},{"x":1023,"y":93,"v":1.33},{"x":1116,"y":93,"v":1.41},{"x":1209,"y":93,"v":1.41},{"x":1302,"y":93,"v":1.41},{"x":1395,"y":93,"v":1.41},{"x":1488,"y":93,"v":1.41},{"x":1581,"y":93,"v":1.41},{"x":1674,"y":93,"v":1.41},{"x":1767,"y":93,"v":1.41},{"x":1860,"y":93,"v":1.41},{"x":1953,"y":93,"v":1.49},
{"x":-1953,"y":0,"v":1.49},{"x":-1860,"y":0,"v":1.49},{"x":-1767,"y":0,"v":1.49},{"x":-1674,"y":0,"v":1.41},{"x":-1581,"y":0,"v":1.41},{"x":-1488,"y":0,"v":1.41},{"x":-1395,"y":0,"v":1.41},{"x":-1302,"y":0,"v":1.41},{"x":-1209,"y":0,"v":1.41},{"x":-1116,"y":0,"v":1.41},{"x":-1023,"y":0,"v":1.33},{"x":-930,"y":0,"v":1.33},{"x":-837,"y":0,"v":1.25},{"x":-744,"y":0,"v":1.25},{"x":-651,"y":0,"v":1.16},{"x":-558,"y":0,"v":1.08},{"x":-465,"y":0,"v":1.0},{"x":-372,"y":0,"v":0.92},{"x":-279,"y":0,"v":0.75},{"x":-186,"y":0,"v":0.67},{"x":-93,"y":0,"v":0.34},{"x":0,"y":0,"v":0},{"x":93,"y":0,"v":0.34},{"x":186,"y":0,"v":0.67},{"x":279,"y":0,"v":0.75},{"x":372,"y":0,"v":0.84},{"x":465,"y":0,"v":1.0},{"x":558,"y":0,"v":1.08},{"x":651,"y":0,"v":1.16},{"x":744,"y":0,"v":1.25},{"x":837,"y":0,"v":1.25},{"x":930,"y":0,"v":1.33},{"x":1023,"y":0,"v":1.33},{"x":1116,"y":0,"v":1.41},{"x":1209,"y":0,"v":1.41},{"x":1302,"y":0,"v":1.41},{"x":1395,"y":0,"v":1.41},{"x":1488,"y":0,"v":1.41},{"x":1581,"y":0,"v":1.41},{"x":1674,"y":0,"v":1.41},{"x":1767,"y":0,"v":1.49},{"x":1860,"y":0,"v":1.49},{"x":1953,"y":0,"v":1.49},
{"x":-1953,"y":-93,"v":1.49},{"x":-1860,"y":-93,"v":1.41},{"x":-1767,"y":-93,"v":1.41},{"x":-1674,"y":-93,"v":1.41},{"x":-1581,"y":-93,"v":1.41},{"x":-1488,"y":-93,"v":1.41},{"x":-1395,"y":-93,"v":1.41},{"x":-1302,"y":-93,"v":1.41},{"x":-1209,"y":-93,"v":1.41},{"x":-1116,"y":-93,"v":1.41},{"x":-1023,"y":-93,"v":1.33},{"x":-930,"y":-93,"v":1.33},{"x":-837,"y":-93,"v":1.25},{"x":-744,"y":-93,"v":1.25},{"x":-651,"y":-93,"v":1.16},{"x":-558,"y":-93,"v":1.08},{"x":-465,"y":-93,"v":1.0},{"x":-372,"y":-93,"v":0.92},{"x":-279,"y":-93,"v":0.84},{"x":-186,"y":-93,"v":0.67},{"x":-93,"y":-93,"v":0.51},{"x":0,"y":-93,"v":0.42},{"x":93,"y":-93,"v":0.51},{"x":186,"y":-93,"v":0.67},{"x":279,"y":-93,"v":0.75},{"x":372,"y":-93,"v":0.84},{"x":465,"y":-93,"v":1.0},{"x":558,"y":-93,"v":1.08},{"x":651,"y":-93,"v":1.16},{"x":744,"y":-93,"v":1.16},{"x":837,"y":-93,"v":1.25},{"x":930,"y":-93,"v":1.25},{"x":1023,"y":-93,"v":1.33},{"x":1116,"y":-93,"v":1.33},{"x":1209,"y":-93,"v":1.41},{"x":1302,"y":-93,"v":1.41},{"x":1395,"y":-93,"v":1.41},{"x":1488,"y":-93,"v":1.41},{"x":1581,"y":-93,"v":1.41},{"x":1674,"y":-93,"v":1.41},{"x":1767,"y":-93,"v":1.41},{"x":1860,"y":-93,"v":1.41},{"x":1953,"y":-93,"v":1.49},
{"x":-1953,"y":-186,"v":1.41},{"x":-1860,"y":-186,"v":1.41},{"x":-1767,"y":-186,"v":1.41},{"x":-1674,"y":-186,"v":1.41},{"x":-1581,"y":-186,"v":1.41},{"x":-1488,"y":-186,"v":1.41},{"x":-1395,"y":-186,"v":1.41},{"x":-1302,"y":-186,"v":1.41},{"x":-1209,"y":-186,"v":1.41},{"x":-1116,"y":-186,"v":1.41},{"x":-1023,"y":-186,"v":1.33},{"x":-930,"y":-186,"v":1.33},{"x":-837,"y":-186,"v":1.25},{"x":-744,"y":-186,"v":1.25},{"x":-651,"y":-186,"v":1.16},{"x":-558,"y":-186,"v":1.16},{"x":-465,"y":-186,"v":1.08},{"x":-372,"y":-186,"v":1.0},{"x":-279,"y":-186,"v":0.84},{"x":-186,"y":-186,"v":0.75},{"x":-93,"y":-186,"v":0.67},{"x":0,"y":-186,"v":0.67},{"x":93,"y":-186,"v":0.67},{"x":186,"y":-186,"v":0.67},{"x":279,"y":-186,"v":0.84},{"x":372,"y":-186,"v":0.92},{"x":465,"y":-186,"v":1.0},{"x":558,"y":-186,"v":1.08},{"x":651,"y":-186,"v":1.16},{"x":744,"y":-186,"v":1.16},{"x":837,"y":-186,"v":1.25},{"x":930,"y":-186,"v":1.25},{"x":1023,"y":-186,"v":1.33},{"x":1116,"y":-186,"v":1.33},{"x":1209,"y":-186,"v":1.41},{"x":1302,"y":-186,"v":1.41},{"x":1395,"y":-186,"v":1.41},{"x":1488,"y":-186,"v":1.41},{"x":1581,"y":-186,"v":1.41},{"x":1674,"y":-186,"v":1.41},{"x":1767,"y":-186,"v":1.41},{"x":1860,"y":-186,"v":1.41},{"x":1953,"y":-186,"v":1.49},
{"x":-1953,"y":-279,"v":1.41},{"x":-1860,"y":-279,"v":1.41},{"x":-1767,"y":-279,"v":1.41},{"x":-1674,"y":-279,"v":1.41},{"x":-1581,"y":-279,"v":1.41},{"x":-1488,"y":-279,"v":1.41},{"x":-1395,"y":-279,"v":1.41},{"x":-1302,"y":-279,"v":1.41},{"x":-1209,"y":-279,"v":1.41},{"x":-1116,"y":-279,"v":1.41},{"x":-1023,"y":-279,"v":1.41},{"x":-930,"y":-279,"v":1.33},{"x":-837,"y":-279,"v":1.33},{"x":-744,"y":-279,"v":1.25},{"x":-651,"y":-279,"v":1.16},{"x":-558,"y":-279,"v":1.16},{"x":-465,"y":-279,"v":1.08},{"x":-372,"y":-279,"v":1.08},{"x":-279,"y":-279,"v":1.0},{"x":-186,"y":-279,"v":1.0},{"x":-93,"y":-279,"v":0.84},{"x":0,"y":-279,"v":0.84},{"x":93,"y":-279,"v":0.84},{"x":186,"y":-279,"v":0.84},{"x":279,"y":-279,"v":0.84},{"x":372,"y":-279,"v":0.92},{"x":465,"y":-279,"v":1.08},{"x":558,"y":-279,"v":1.08},{"x":651,"y":-279,"v":1.16},{"x":744,"y":-279,"v":1.16},{"x":837,"y":-279,"v":1.25},{"x":930,"y":-279,"v":1.25},{"x":1023,"y":-279,"v":1.33},{"x":1116,"y":-279,"v":1.33},{"x":1209,"y":-279,"v":1.33},{"x":1302,"y":-279,"v":1.41},{"x":1395,"y":-279,"v":1.41},{"x":1488,"y":-279,"v":1.41},{"x":1581,"y":-279,"v":1.41},{"x":1674,"y":-279,"v":1.41},{"x":1767,"y":-279,"v":1.41},{"x":1860,"y":-279,"v":1.41},{"x":1953,"y":-279,"v":1.41},
{"x":-1953,"y":-372,"v":1.41},{"x":-1860,"y":-372,"v":1.41},{"x":-1767,"y":-372,"v":1.41},{"x":-1674,"y":-372,"v":1.41},{"x":-1581,"y":-372,"v":1.41},{"x":-1488,"y":-372,"v":1.41},{"x":-1395,"y":-372,"v":1.41},{"x":-1302,"y":-372,"v":1.41},{"x":-1209,"y":-372,"v":1.41},{"x":-1116,"y":-372,"v":1.41},{"x":-1023,"y":-372,"v":1.41},{"x":-930,"y":-372,"v":1.33},{"x":-837,"y":-372,"v":1.33},{"x":-744,"y":-372,"v":1.25},{"x":-651,"y":-372,"v":1.25},{"x":-558,"y":-372,"v":1.16},{"x":-465,"y":-372,"v":1.16},{"x":-372,"y":-372,"v":1.08},{"x":-279,"y":-372,"v":1.0},{"x":-186,"y":-372,"v":1.0},{"x":-93,"y":-372,"v":0.92},{"x":0,"y":-372,"v":0.92},{"x":93,"y":-372,"v":0.92},{"x":186,"y":-372,"v":0.92},{"x":279,"y":-372,"v":0.92},{"x":372,"y":-372,"v":1.08},{"x":465,"y":-372,"v":1.16},{"x":558,"y":-372,"v":1.16},{"x":651,"y":-372,"v":1.16},{"x":744,"y":-372,"v":1.16},{"x":837,"y":-372,"v":1.25},{"x":930,"y":-372,"v":1.25},{"x":1023,"y":-372,"v":1.33},{"x":1116,"y":-372,"v":1.33},{"x":1209,"y":-372,"v":1.33},{"x":1302,"y":-372,"v":1.41},{"x":1395,"y":-372,"v":1.41},{"x":1488,"y":-372,"v":1.41},{"x":1581,"y":-372,"v":1.41},{"x":1674,"y":-372,"v":1.41},{"x":1767,"y":-372,"v":1.41},{"x":1860,"y":-372,"v":1.41},{"x":1953,"y":-372,"v":1.41},
{"x":-1953,"y":-465,"v":1.41},{"x":-1860,"y":-465,"v":1.41},{"x":-1767,"y":-465,"v":1.41},{"x":-1674,"y":-465,"v":1.41},{"x":-1581,"y":-465,"v":1.41},{"x":-1488,"y":-465,"v":1.41},{"x":-1395,"y":-465,"v":1.41},{"x":-1302,"y":-465,"v":1.41},{"x":-1209,"y":-465,"v":1.41},{"x":-1116,"y":-465,"v":1.41},{"x":-1023,"y":-465,"v":1.41},{"x":-930,"y":-465,"v":1.33},{"x":-837,"y":-465,"v":1.33},{"x":-744,"y":-465,"v":1.25},{"x":-651,"y":-465,"v":1.25},{"x":-558,"y":-465,"v":1.16},{"x":-465,"y":-465,"v":1.16},{"x":-372,"y":-465,"v":1.16},{"x":-279,"y":-465,"v":1.08},{"x":-186,"y":-465,"v":1.08},{"x":-93,"y":-465,"v":1.0},{"x":0,"y":-465,"v":1.0},{"x":93,"y":-465,"v":1.0},{"x":186,"y":-465,"v":1.0},{"x":279,"y":-465,"v":1.0},{"x":372,"y":-465,"v":1.08},{"x":465,"y":-465,"v":1.16},{"x":558,"y":-465,"v":1.16},{"x":651,"y":-465,"v":1.16},{"x":744,"y":-465,"v":1.25},{"x":837,"y":-465,"v":1.25},{"x":930,"y":-465,"v":1.25},{"x":1023,"y":-465,"v":1.33},{"x":1116,"y":-465,"v":1.33},{"x":1209,"y":-465,"v":1.33},{"x":1302,"y":-465,"v":1.41},{"x":1395,"y":-465,"v":1.41},{"x":1488,"y":-465,"v":1.41},{"x":1581,"y":-465,"v":1.41},{"x":1674,"y":-465,"v":1.41},{"x":1767,"y":-465,"v":1.41},{"x":1860,"y":-465,"v":1.41},{"x":1953,"y":-465,"v":1.41},
{"x":-1953,"y":-558,"v":1.41},{"x":-1860,"y":-558,"v":1.41},{"x":-1767,"y":-558,"v":1.41},{"x":-1674,"y":-558,"v":1.41},{"x":-1581,"y":-558,"v":1.41},{"x":-1488,"y":-558,"v":1.41},{"x":-1395,"y":-558,"v":1.41},{"x":-1302,"y":-558,"v":1.41},{"x":-1209,"y":-558,"v":1.41},{"x":-1116,"y":-558,"v":1.41},{"x":-1023,"y":-558,"v":1.41},{"x":-930,"y":-558,"v":1.33},{"x":-837,"y":-558,"v":1.33},{"x":-744,"y":-558,"v":1.33},{"x":-651,"y":-558,"v":1.25},{"x":-558,"y":-558,"v":1.25},{"x":-465,"y":-558,"v":1.25},{"x":-372,"y":-558,"v":1.16},{"x":-279,"y":-558,"v":1.16},{"x":-186,"y":-558,"v":1.16},{"x":-93,"y":-558,"v":1.16},{"x":0,"y":-558,"v":1.16},{"x":93,"y":-558,"v":1.16},{"x":186,"y":-558,"v":1.16},{"x":279,"y":-558,"v":1.16},{"x":372,"y":-558,"v":1.16},{"x":465,"y":-558,"v":1.16},{"x":558,"y":-558,"v":1.16},{"x":651,"y":-558,"v":1.25},{"x":744,"y":-558,"v":1.25},{"x":837,"y":-558,"v":1.25},{"x":930,"y":-558,"v":1.25},{"x":1023,"y":-558,"v":1.33},{"x":1116,"y":-558,"v":1.33},{"x":1209,"y":-558,"v":1.33},{"x":1302,"y":-558,"v":1.41},{"x":1395,"y":-558,"v":1.41},{"x":1488,"y":-558,"v":1.41},{"x":1581,"y":-558,"v":1.41},{"x":1674,"y":-558,"v":1.41},{"x":1767,"y":-558,"v":1.41},{"x":1860,"y":-558,"v":1.41},{"x":1953,"y":-558,"v":1.41},
{"x":-1953,"y":-651,"v":1.41},{"x":-1860,"y":-651,"v":1.41},{"x":-1767,"y":-651,"v":1.41},{"x":-1674,"y":-651,"v":1.41},{"x":-1581,"y":-651,"v":1.41},{"x":-1488,"y":-651,"v":1.41},{"x":-1395,"y":-651,"v":1.41},{"x":-1302,"y":-651,"v":1.41},{"x":-1209,"y":-651,"v":1.41},{"x":-1116,"y":-651,"v":1.41},{"x":-1023,"y":-651,"v":1.33},{"x":-930,"y":-651,"v":1.33},{"x":-837,"y":-651,"v":1.33},{"x":-744,"y":-651,"v":1.33},{"x":-651,"y":-651,"v":1.33},{"x":-558,"y":-651,"v":1.25},{"x":-465,"y":-651,"v":1.25},{"x":-372,"y":-651,"v":1.25},{"x":-279,"y":-651,"v":1.25},{"x":-186,"y":-651,"v":1.25},{"x":-93,"y":-651,"v":1.25},{"x":0,"y":-651,"v":1.25},{"x":93,"y":-651,"v":1.25},{"x":186,"y":-651,"v":1.25},{"x":279,"y":-651,"v":1.16},{"x":372,"y":-651,"v":1.16},{"x":465,"y":-651,"v":1.16},{"x":558,"y":-651,"v":1.25},{"x":651,"y":-651,"v":1.25},{"x":744,"y":-651,"v":1.25},{"x":837,"y":-651,"v":1.25},{"x":930,"y":-651,"v":1.25},{"x":1023,"y":-651,"v":1.33},{"x":1116,"y":-651,"v":1.33},{"x":1209,"y":-651,"v":1.33},{"x":1302,"y":-651,"v":1.41},{"x":1395,"y":-651,"v":1.41},{"x":1488,"y":-651,"v":1.41},{"x":1581,"y":-651,"v":1.41},{"x":1674,"y":-651,"v":1.41},{"x":1767,"y":-651,"v":1.41},{"x":1860,"y":-651,"v":1.41},{"x":1953,"y":-651,"v":1.41},
{"x":-1953,"y":-744,"v":1.41},{"x":-1860,"y":-744,"v":1.41},{"x":-1767,"y":-744,"v":1.41},{"x":-1674,"y":-744,"v":1.41},{"x":-1581,"y":-744,"v":1.41},{"x":-1488,"y":-744,"v":1.41},{"x":-1395,"y":-744,"v":1.41},{"x":-1302,"y":-744,"v":1.41},{"x":-1209,"y":-744,"v":1.41},{"x":-1116,"y":-744,"v":1.41},{"x":-1023,"y":-744,"v":1.33},{"x":-930,"y":-744,"v":1.33},{"x":-837,"y":-744,"v":1.33},{"x":-744,"y":-744,"v":1.33},{"x":-651,"y":-744,"v":1.33},{"x":-558,"y":-744,"v":1.33},{"x":-465,"y":-744,"v":1.33},{"x":-372,"y":-744,"v":1.25},{"x":-279,"y":-744,"v":1.25},{"x":-186,"y":-744,"v":1.25},{"x":-93,"y":-744,"v":1.25},{"x":0,"y":-744,"v":1.25},{"x":93,"y":-744,"v":1.25},{"x":186,"y":-744,"v":1.25},{"x":279,"y":-744,"v":1.25},{"x":372,"y":-744,"v":1.25},{"x":465,"y":-744,"v":1.25},{"x":558,"y":-744,"v":1.25},{"x":651,"y":-744,"v":1.25},{"x":744,"y":-744,"v":1.25},{"x":837,"y":-744,"v":1.25},{"x":930,"y":-744,"v":1.33},{"x":1023,"y":-744,"v":1.33},{"x":1116,"y":-744,"v":1.33},{"x":1209,"y":-744,"v":1.33},{"x":1302,"y":-744,"v":1.33},{"x":1395,"y":-744,"v":1.41},{"x":1488,"y":-744,"v":1.41},{"x":1581,"y":-744,"v":1.41},{"x":1674,"y":-744,"v":1.41},{"x":1767,"y":-744,"v":1.41},{"x":1860,"y":-744,"v":1.41},{"x":1953,"y":-744,"v":1.41},
{"x":-1953,"y":-837,"v":1.41},{"x":-1860,"y":-837,"v":1.41},{"x":-1767,"y":-837,"v":1.41},{"x":-1674,"y":-837,"v":1.41},{"x":-1581,"y":-837,"v":1.41},{"x":-1488,"y":-837,"v":1.41},{"x":-1395,"y":-837,"v":1.41},{"x":-1302,"y":-837,"v":1.41},{"x":-1209,"y":-837,"v":1.41},{"x":-1116,"y":-837,"v":1.41},{"x":-1023,"y":-837,"v":1.41},{"x":-930,"y":-837,"v":1.33},{"x":-837,"y":-837,"v":1.33},{"x":-744,"y":-837,"v":1.33},{"x":-651,"y":-837,"v":1.33},{"x":-558,"y":-837,"v":1.33},{"x":-465,"y":-837,"v":1.33},{"x":-372,"y":-837,"v":1.33},{"x":-279,"y":-837,"v":1.33},{"x":-186,"y":-837,"v":1.33},{"x":-93,"y":-837,"v":1.33},{"x":0,"y":-837,"v":1.33},{"x":93,"y":-837,"v":1.33},{"x":186,"y":-837,"v":1.33},{"x":279,"y":-837,"v":1.33},{"x":372,"y":-837,"v":1.33},{"x":465,"y":-837,"v":1.33},{"x":558,"y":-837,"v":1.25},{"x":651,"y":-837,"v":1.25},{"x":744,"y":-837,"v":1.25},{"x":837,"y":-837,"v":1.33},{"x":930,"y":-837,"v":1.33},{"x":1023,"y":-837,"v":1.33},{"x":1116,"y":-837,"v":1.33},{"x":1209,"y":-837,"v":1.33},{"x":1302,"y":-837,"v":1.33},{"x":1395,"y":-837,"v":1.33},{"x":1488,"y":-837,"v":1.41},{"x":1581,"y":-837,"v":1.41},{"x":1674,"y":-837,"v":1.41},{"x":1767,"y":-837,"v":1.41},{"x":1860,"y":-837,"v":1.41},{"x":1953,"y":-837,"v":1.41},
{"x":-1953,"y":-930,"v":1.49},{"x":-1860,"y":-930,"v":1.41},{"x":-1767,"y":-930,"v":1.41},{"x":-1674,"y":-930,"v":1.41},{"x":-1581,"y":-930,"v":1.41},{"x":-1488,"y":-930,"v":1.41},{"x":-1395,"y":-930,"v":1.41},{"x":-1302,"y":-930,"v":1.41},{"x":-1209,"y":-930,"v":1.41},{"x":-1116,"y":-930,"v":1.41},{"x":-1023,"y":-930,"v":1.41},{"x":-930,"y":-930,"v":1.41},{"x":-837,"y":-930,"v":1.33},{"x":-744,"y":-930,"v":1.33},{"x":-651,"y":-930,"v":1.33},{"x":-558,"y":-930,"v":1.33},{"x":-465,"y":-930,"v":1.33},{"x":-372,"y":-930,"v":1.33},{"x":-279,"y":-930,"v":1.33},{"x":-186,"y":-930,"v":1.33},{"x":-93,"y":-930,"v":1.33},{"x":0,"y":-930,"v":1.33},{"x":93,"y":-930,"v":1.33},{"x":186,"y":-930,"v":1.33},{"x":279,"y":-930,"v":1.33},{"x":372,"y":-930,"v":1.33},{"x":465,"y":-930,"v":1.33},{"x":558,"y":-930,"v":1.33},{"x":651,"y":-930,"v":1.33},{"x":744,"y":-930,"v":1.33},{"x":837,"y":-930,"v":1.33},{"x":930,"y":-930,"v":1.33},{"x":1023,"y":-930,"v":1.33},{"x":1116,"y":-930,"v":1.33},{"x":1209,"y":-930,"v":1.33},{"x":1302,"y":-930,"v":1.33},{"x":1395,"y":-930,"v":1.33},{"x":1488,"y":-930,"v":1.41},{"x":1581,"y":-930,"v":1.41},{"x":1674,"y":-930,"v":1.41},{"x":1767,"y":-930,"v":1.41},{"x":1860,"y":-930,"v":1.41},{"x":1953,"y":-930,"v":1.41},
{"x":-1953,"y":-1023,"v":1.49},{"x":-1860,"y":-1023,"v":1.49},{"x":-1767,"y":-1023,"v":1.41},{"x":-1674,"y":-1023,"v":1.41},{"x":-1581,"y":-1023,"v":1.41},{"x":-1488,"y":-1023,"v":1.41},{"x":-1395,"y":-1023,"v":1.41},{"x":-1302,"y":-1023,"v":1.41},{"x":-1209,"y":-1023,"v":1.41},{"x":-1116,"y":-1023,"v":1.41},{"x":-1023,"y":-1023,"v":1.41},{"x":-930,"y":-1023,"v":1.41},{"x":-837,"y":-1023,"v":1.41},{"x":-744,"y":-1023,"v":1.41},{"x":-651,"y":-1023,"v":1.41},{"x":-558,"y":-1023,"v":1.41},{"x":-465,"y":-1023,"v":1.41},{"x":-372,"y":-1023,"v":1.41},{"x":-279,"y":-1023,"v":1.41},{"x":-186,"y":-1023,"v":1.41},{"x":-93,"y":-1023,"v":1.41},{"x":0,"y":-1023,"v":1.41},{"x":93,"y":-1023,"v":1.41},{"x":186,"y":-1023,"v":1.41},{"x":279,"y":-1023,"v":1.41},{"x":372,"y":-1023,"v":1.41},{"x":465,"y":-1023,"v":1.41},{"x":558,"y":-1023,"v":1.41},{"x":651,"y":-1023,"v":1.33},{"x":744,"y":-1023,"v":1.33},{"x":837,"y":-1023,"v":1.33},{"x":930,"y":-1023,"v":1.33},{"x":1023,"y":-1023,"v":1.33},{"x":1116,"y":-1023,"v":1.33},{"x":1209,"y":-1023,"v":1.33},{"x":1302,"y":-1023,"v":1.33},{"x":1395,"y":-1023,"v":1.41},{"x":1488,"y":-1023,"v":1.41},{"x":1581,"y":-1023,"v":1.41},{"x":1674,"y":-1023,"v":1.41},{"x":1767,"y":-1023,"v":1.41},{"x":1860,"y":-1023,"v":1.41},{"x":1953,"y":-1023,"v":1.49},
{"x":-1953,"y":-1116,"v":1.49},{"x":-1860,"y":-1116,"v":1.49},{"x":-1767,"y":-1116,"v":1.41},{"x":-1674,"y":-1116,"v":1.41},{"x":-1581,"y":-1116,"v":1.41},{"x":-1488,"y":-1116,"v":1.41},{"x":-1395,"y":-1116,"v":1.41},{"x":-1302,"y":-1116,"v":1.41},{"x":-1209,"y":-1116,"v":1.41},{"x":-1116,"y":-1116,"v":1.41},{"x":-1023,"y":-1116,"v":1.41},{"x":-930,"y":-1116,"v":1.41},{"x":-837,"y":-1116,"v":1.41},{"x":-744,"y":-1116,"v":1.41},{"x":-651,"y":-1116,"v":1.41},{"x":-558,"y":-1116,"v":1.41},{"x":-465,"y":-1116,"v":1.41},{"x":-372,"y":-1116,"v":1.41},{"x":-279,"y":-1116,"v":1.41},{"x":-186,"y":-1116,"v":1.41},{"x":-93,"y":-1116,"v":1.41},{"x":0,"y":-1116,"v":1.41},{"x":93,"y":-1116,"v":1.41},{"x":186,"y":-1116,"v":1.41},{"x":279,"y":-1116,"v":1.41},{"x":372,"y":-1116,"v":1.41},{"x":465,"y":-1116,"v":1.41},{"x":558,"y":-1116,"v":1.41},{"x":651,"y":-1116,"v":1.41},{"x":744,"y":-1116,"v":1.41},{"x":837,"y":-1116,"v":1.41},{"x":930,"y":-1116,"v":1.41},{"x":1023,"y":-1116,"v":1.33},{"x":1116,"y":-1116,"v":1.33},{"x":1209,"y":-1116,"v":1.41},{"x":1302,"y":-1116,"v":1.41},{"x":1395,"y":-1116,"v":1.41},{"x":1488,"y":-1116,"v":1.41},{"x":1581,"y":-1116,"v":1.41},{"x":1674,"y":-1116,"v":1.41},{"x":1767,"y":-1116,"v":1.41},{"x":1860,"y":-1116,"v":1.49},{"x":1953,"y":-1116,"v":1.49},
{"x":-1953,"y":-1209,"v":1.49},{"x":-1860,"y":-1209,"v":1.49},{"x":-1767,"y":-1209,"v":1.41},{"x":-1674,"y":-1209,"v":1.41},{"x":-1581,"y":-1209,"v":1.41},{"x":-1488,"y":-1209,"v":1.41},{"x":-1395,"y":-1209,"v":1.41},{"x":-1302,"y":-1209,"v":1.41},{"x":-1209,"y":-1209,"v":1.41},{"x":-1116,"y":-1209,"v":1.41},{"x":-1023,"y":-1209,"v":1.41},{"x":-930,"y":-1209,"v":1.41},{"x":-837,"y":-1209,"v":1.41},{"x":-744,"y":-1209,"v":1.41},{"x":-651,"y":-1209,"v":1.41},{"x":-558,"y":-1209,"v":1.41},{"x":-465,"y":-1209,"v":1.41},{"x":-372,"y":-1209,"v":1.41},{"x":-279,"y":-1209,"v":1.41},{"x":-186,"y":-1209,"v":1.41},{"x":-93,"y":-1209,"v":1.41},{"x":0,"y":-1209,"v":1.41},{"x":93,"y":-1209,"v":1.41},{"x":186,"y":-1209,"v":1.41},{"x":279,"y":-1209,"v":1.41},{"x":372,"y":-1209,"v":1.41},{"x":465,"y":-1209,"v":1.41},{"x":558,"y":-1209,"v":1.41},{"x":651,"y":-1209,"v":1.41},{"x":744,"y":-1209,"v":1.41},{"x":837,"y":-1209,"v":1.41},{"x":930,"y":-1209,"v":1.41},{"x":1023,"y":-1209,"v":1.41},{"x":1116,"y":-1209,"v":1.41},{"x":1209,"y":-1209,"v":1.41},{"x":1302,"y":-1209,"v":1.41},{"x":1395,"y":-1209,"v":1.41},{"x":1488,"y":-1209,"v":1.41},{"x":1581,"y":-1209,"v":1.41},{"x":1674,"y":-1209,"v":1.49},{"x":1767,"y":-1209,"v":1.49},{"x":1860,"y":-1209,"v":1.49},{"x":1953,"y":-1209,"v":1.49},
{"x":-1953,"y":-1302,"v":1.41},{"x":-1860,"y":-1302,"v":1.41},{"x":-1767,"y":-1302,"v":1.41},{"x":-1674,"y":-1302,"v":1.41},{"x":-1581,"y":-1302,"v":1.41},{"x":-1488,"y":-1302,"v":1.41},{"x":-1395,"y":-1302,"v":1.41},{"x":-1302,"y":-1302,"v":1.41},{"x":-1209,"y":-1302,"v":1.41},{"x":-1116,"y":-1302,"v":1.41},{"x":-1023,"y":-1302,"v":1.41},{"x":-930,"y":-1302,"v":1.41},{"x":-837,"y":-1302,"v":1.41},{"x":-744,"y":-1302,"v":1.41},{"x":-651,"y":-1302,"v":1.41},{"x":-558,"y":-1302,"v":1.41},{"x":-465,"y":-1302,"v":1.41},{"x":-372,"y":-1302,"v":1.41},{"x":-279,"y":-1302,"v":1.49},{"x":-186,"y":-1302,"v":1.49},{"x":-93,"y":-1302,"v":1.49},{"x":0,"y":-1302,"v":1.41},{"x":93,"y":-1302,"v":1.41},{"x":186,"y":-1302,"v":1.41},{"x":279,"y":-1302,"v":1.41},{"x":372,"y":-1302,"v":1.41},{"x":465,"y":-1302,"v":1.41},{"x":558,"y":-1302,"v":1.41},{"x":651,"y":-1302,"v":1.41},{"x":744,"y":-1302,"v":1.41},{"x":837,"y":-1302,"v":1.41},{"x":930,"y":-1302,"v":1.41},{"x":1023,"y":-1302,"v":1.41},{"x":1116,"y":-1302,"v":1.41},{"x":1209,"y":-1302,"v":1.41},{"x":1302,"y":-1302,"v":1.41},{"x":1395,"y":-1302,"v":1.41},{"x":1488,"y":-1302,"v":1.41},{"x":1581,"y":-1302,"v":1.41},{"x":1674,"y":-1302,"v":1.49},{"x":1767,"y":-1302,"v":1.49},{"x":1860,"y":-1302,"v":1.49},{"x":1953,"y":-1302,"v":1.49},
{"x":-1953,"y":-1395,"v":1.41},{"x":-1860,"y":-1395,"v":1.41},{"x":-1767,"y":-1395,"v":1.41},{"x":-1674,"y":-1395,"v":1.41},{"x":-1581,"y":-1395,"v":1.41},{"x":-1488,"y":-1395,"v":1.41},{"x":-1395,"y":-1395,"v":1.41},{"x":-1302,"y":-1395,"v":1.41},{"x":-1209,"y":-1395,"v":1.41},{"x":-1116,"y":-1395,"v":1.41},{"x":-1023,"y":-1395,"v":1.41},{"x":-930,"y":-1395,"v":1.41},{"x":-837,"y":-1395,"v":1.41},{"x":-744,"y":-1395,"v":1.41},{"x":-651,"y":-1395,"v":1.41},{"x":-558,"y":-1395,"v":1.41},{"x":-465,"y":-1395,"v":1.41},{"x":-372,"y":-1395,"v":1.49},{"x":-279,"y":-1395,"v":1.49},{"x":-186,"y":-1395,"v":1.49},{"x":-93,"y":-1395,"v":1.49},{"x":0,"y":-1395,"v":1.49},{"x":93,"y":-1395,"v":1.41},{"x":186,"y":-1395,"v":1.41},{"x":279,"y":-1395,"v":1.41},{"x":372,"y":-1395,"v":1.41},{"x":465,"y":-1395,"v":1.41},{"x":558,"y":-1395,"v":1.41},{"x":651,"y":-1395,"v":1.41},{"x":744,"y":-1395,"v":1.41},{"x":837,"y":-1395,"v":1.41},{"x":930,"y":-1395,"v":1.41},{"x":1023,"y":-1395,"v":1.41},{"x":1116,"y":-1395,"v":1.41},{"x":1209,"y":-1395,"v":1.41},{"x":1302,"y":-1395,"v":1.41},{"x":1395,"y":-1395,"v":1.41},{"x":1488,"y":-1395,"v":1.41},{"x":1581,"y":-1395,"v":1.41},{"x":1674,"y":-1395,"v":1.49},{"x":1767,"y":-1395,"v":1.49},{"x":1860,"y":-1395,"v":1.49},{"x":1953,"y":-1395,"v":1.49},
{"x":-1953,"y":-1488,"v":1.49},{"x":-1860,"y":-1488,"v":1.41},{"x":-1767,"y":-1488,"v":1.41},{"x":-1674,"y":-1488,"v":1.41},{"x":-1581,"y":-1488,"v":1.41},{"x":-1488,"y":-1488,"v":1.41},{"x":-1395,"y":-1488,"v":1.41},{"x":-1302,"y":-1488,"v":1.41},{"x":-1209,"y":-1488,"v":1.41},{"x":-1116,"y":-1488,"v":1.41},{"x":-1023,"y":-1488,"v":1.41},{"x":-930,"y":-1488,"v":1.41},{"x":-837,"y":-1488,"v":1.49},{"x":-744,"y":-1488,"v":1.49},{"x":-651,"y":-1488,"v":1.49},{"x":-558,"y":-1488,"v":1.49},{"x":-465,"y":-1488,"v":1.49},{"x":-372,"y":-1488,"v":1.49},{"x":-279,"y":-1488,"v":1.49},{"x":-186,"y":-1488,"v":1.49},{"x":-93,"y":-1488,"v":1.49},{"x":0,"y":-1488,"v":1.49},{"x":93,"y":-1488,"v":1.49},{"x":186,"y":-1488,"v":1.49},{"x":279,"y":-1488,"v":1.41},{"x":372,"y":-1488,"v":1.41},{"x":465,"y":-1488,"v":1.41},{"x":558,"y":-1488,"v":1.41},{"x":651,"y":-1488,"v":1.41},{"x":744,"y":-1488,"v":1.41},{"x":837,"y":-1488,"v":1.41},{"x":930,"y":-1488,"v":1.41},{"x":1023,"y":-1488,"v":1.41},{"x":1116,"y":-1488,"v":1.41},{"x":1209,"y":-1488,"v":1.49},{"x":1302,"y":-1488,"v":1.49},{"x":1395,"y":-1488,"v":1.49},{"x":1488,"y":-1488,"v":1.49},{"x":1581,"y":-1488,"v":1.41},{"x":1674,"y":-1488,"v":1.49},{"x":1767,"y":-1488,"v":1.49},{"x":1860,"y":-1488,"v":1.49},{"x":1953,"y":-1488,"v":1.49},
{"x":-1953,"y":-1581,"v":1.49},{"x":-1860,"y":-1581,"v":1.49},{"x":-1767,"y":-1581,"v":1.49},{"x":-1674,"y":-1581,"v":1.41},{"x":-1581,"y":-1581,"v":1.41},{"x":-1488,"y":-1581,"v":1.41},{"x":-1395,"y":-1581,"v":1.41},{"x":-1302,"y":-1581,"v":1.41},{"x":-1209,"y":-1581,"v":1.41},{"x":-1116,"y":-1581,"v":1.41},{"x":-1023,"y":-1581,"v":1.41},{"x":-930,"y":-1581,"v":1.41},{"x":-837,"y":-1581,"v":1.49},{"x":-744,"y":-1581,"v":1.49},{"x":-651,"y":-1581,"v":1.49},{"x":-558,"y":-1581,"v":1.49},{"x":-465,"y":-1581,"v":1.49},{"x":-372,"y":-1581,"v":1.49},{"x":-279,"y":-1581,"v":1.49},{"x":-186,"y":-1581,"v":1.49},{"x":-93,"y":-1581,"v":1.49},{"x":0,"y":-1581,"v":1.49},{"x":93,"y":-1581,"v":1.49},{"x":186,"y":-1581,"v":1.49},{"x":279,"y":-1581,"v":1.49},{"x":372,"y":-1581,"v":1.49},{"x":465,"y":-1581,"v":1.41},{"x":558,"y":-1581,"v":1.41},{"x":651,"y":-1581,"v":1.41},{"x":744,"y":-1581,"v":1.49},{"x":837,"y":-1581,"v":1.49},{"x":930,"y":-1581,"v":1.49},{"x":1023,"y":-1581,"v":1.41},{"x":1116,"y":-1581,"v":1.49},{"x":1209,"y":-1581,"v":1.49},{"x":1302,"y":-1581,"v":1.49},{"x":1395,"y":-1581,"v":1.49},{"x":1488,"y":-1581,"v":1.49},{"x":1581,"y":-1581,"v":1.49},{"x":1674,"y":-1581,"v":1.49},{"x":1767,"y":-1581,"v":1.49},{"x":1860,"y":-1581,"v":1.49},{"x":1953,"y":-1581,"v":1.49},
{"x":-1953,"y":-1674,"v":1.49},{"x":-1860,"y":-1674,"v":1.49},{"x":-1767,"y":-1674,"v":1.49},{"x":-1674,"y":-1674,"v":1.49},{"x":-1581,"y":-1674,"v":1.41},{"x":-1488,"y":-1674,"v":1.41},{"x":-1395,"y":-1674,"v":1.41},{"x":-1302,"y":-1674,"v":1.41},{"x":-1209,"y":-1674,"v":1.41},{"x":-1116,"y":-1674,"v":1.41},{"x":-1023,"y":-1674,"v":1.41},{"x":-930,"y":-1674,"v":1.49},{"x":-837,"y":-1674,"v":1.49},{"x":-744,"y":-1674,"v":1.49},{"x":-651,"y":-1674,"v":1.49},{"x":-558,"y":-1674,"v":1.49},{"x":-465,"y":-1674,"v":1.49},{"x":-372,"y":-1674,"v":1.49},{"x":-279,"y":-1674,"v":1.49},{"x":-186,"y":-1674,"v":1.49},{"x":-93,"y":-1674,"v":1.49},{"x":0,"y":-1674,"v":1.49},{"x":93,"y":-1674,"v":1.49},{"x":186,"y":-1674,"v":1.49},{"x":279,"y":-1674,"v":1.49},{"x":372,"y":-1674,"v":1.49},{"x":465,"y":-1674,"v":1.49},{"x":558,"y":-1674,"v":1.41},{"x":651,"y":-1674,"v":1.41},{"x":744,"y":-1674,"v":1.49},{"x":837,"y":-1674,"v":1.49},{"x":930,"y":-1674,"v":1.49},{"x":1023,"y":-1674,"v":1.49},{"x":1116,"y":-1674,"v":1.49},{"x":1209,"y":-1674,"v":1.49},{"x":1302,"y":-1674,"v":1.49},{"x":1395,"y":-1674,"v":1.49},{"x":1488,"y":-1674,"v":1.49},{"x":1581,"y":-1674,"v":1.49},{"x":1674,"y":-1674,"v":1.49},{"x":1767,"y":-1674,"v":1.49},{"x":1860,"y":-1674,"v":1.49},{"x":1953,"y":-1674,"v":1.49},
{"x":-1953,"y":-1767,"v":1.49},{"x":-1860,"y":-1767,"v":1.49},{"x":-1767,"y":-1767,"v":1.49},{"x":-1674,"y":-1767,"v":1.49},{"x":-1581,"y":-1767,"v":1.49},{"x":-1488,"y":-1767,"v":1.49},{"x":-1395,"y":-1767,"v":1.49},{"x":-1302,"y":-1767,"v":1.41},{"x":-1209,"y":-1767,"v":1.41},{"x":-1116,"y":-1767,"v":1.49},{"x":-1023,"y":-1767,"v":1.49},{"x":-930,"y":-1767,"v":1.49},{"x":-837,"y":-1767,"v":1.49},{"x":-744,"y":-1767,"v":1.49},{"x":-651,"y":-1767,"v":1.49},{"x":-558,"y":-1767,"v":1.49},{"x":-465,"y":-1767,"v":1.49},{"x":-372,"y":-1767,"v":1.49},{"x":-279,"y":-1767,"v":1.49},{"x":-186,"y":-1767,"v":1.49},{"x":-93,"y":-1767,"v":1.49},{"x":0,"y":-1767,"v":1.49},{"x":93,"y":-1767,"v":1.49},{"x":186,"y":-1767,"v":1.49},{"x":279,"y":-1767,"v":1.49},{"x":372,"y":-1767,"v":1.49},{"x":465,"y":-1767,"v":1.49},{"x":558,"y":-1767,"v":1.49},{"x":651,"y":-1767,"v":1.49},{"x":744,"y":-1767,"v":1.49},{"x":837,"y":-1767,"v":1.49},{"x":930,"y":-1767,"v":1.49},{"x":1023,"y":-1767,"v":1.49},{"x":1116,"y":-1767,"v":1.49},{"x":1209,"y":-1767,"v":1.49},{"x":1302,"y":-1767,"v":1.49},{"x":1395,"y":-1767,"v":1.49},{"x":1488,"y":-1767,"v":1.49},{"x":1581,"y":-1767,"v":1.49},{"x":1674,"y":-1767,"v":1.49},{"x":1767,"y":-1767,"v":1.49},{"x":1860,"y":-1767,"v":1.49},{"x":1953,"y":-1767,"v":1.49},
{"x":-1953,"y":-1860,"v":1.49},{"x":-1860,"y":-1860,"v":1.49},{"x":-1767,"y":-1860,"v":1.49},{"x":-1674,"y":-1860,"v":1.49},{"x":-1581,"y":-1860,"v":1.49},{"x":-1488,"y":-1860,"v":1.49},{"x":-1395,"y":-1860,"v":1.49},{"x":-1302,"y":-1860,"v":1.49},{"x":-1209,"y":-1860,"v":1.49},{"x":-1116,"y":-1860,"v":1.49},{"x":-1023,"y":-1860,"v":1.49},{"x":-930,"y":-1860,"v":1.49},{"x":-837,"y":-1860,"v":1.49},{"x":-744,"y":-1860,"v":1.49},{"x":-651,"y":-1860,"v":1.49},{"x":-558,"y":-1860,"v":1.49},{"x":-465,"y":-1860,"v":1.49},{"x":-372,"y":-1860,"v":1.49},{"x":-279,"y":-1860,"v":1.49},{"x":-186,"y":-1860,"v":1.49},{"x":-93,"y":-1860,"v":1.49},{"x":0,"y":-1860,"v":1.49},{"x":93,"y":-1860,"v":1.49},{"x":186,"y":-1860,"v":1.49},{"x":279,"y":-1860,"v":1.49},{"x":372,"y":-1860,"v":1.49},{"x":465,"y":-1860,"v":1.49},{"x":558,"y":-1860,"v":1.49},{"x":651,"y":-1860,"v":1.49},{"x":744,"y":-1860,"v":1.49},{"x":837,"y":-1860,"v":1.49},{"x":930,"y":-1860,"v":1.49},{"x":1023,"y":-1860,"v":1.49},{"x":1116,"y":-1860,"v":1.49},{"x":1209,"y":-1860,"v":1.49},{"x":1302,"y":-1860,"v":1.49},{"x":1395,"y":-1860,"v":1.49},{"x":1488,"y":-1860,"v":1.49},{"x":1581,"y":-1860,"v":1.49},{"x":1674,"y":-1860,"v":1.49},{"x":1767,"y":-1860,"v":1.49},{"x":1860,"y":-1860,"v":1.49},{"x":1953,"y":-1860,"v":1.49},
{"x":-1953,"y":-1953,"v":1.49},{"x":-1860,"y":-1953,"v":1.49},{"x":-1767,"y":-1953,"v":1.49},{"x":-1674,"y":-1953,"v":1.49},{"x":-1581,"y":-1953,"v":1.49},{"x":-1488,"y":-1953,"v":1.49},{"x":-1395,"y":-1953,"v":1.49},{"x":-1302,"y":-1953,"v":1.49},{"x":-1209,"y":-1953,"v":1.49},{"x":-1116,"y":-1953,"v":1.49},{"x":-1023,"y":-1953,"v":1.49},{"x":-930,"y":-1953,"v":1.49},{"x":-837,"y":-1953,"v":1.49},{"x":-744,"y":-1953,"v":1.49},{"x":-651,"y":-1953,"v":1.49},{"x":-558,"y":-1953,"v":1.49},{"x":-465,"y":-1953,"v":1.49},{"x":-372,"y":-1953,"v":1.49},{"x":-279,"y":-1953,"v":1.49},{"x":-186,"y":-1953,"v":1.49},{"x":-93,"y":-1953,"v":1.57},{"x":0,"y":-1953,"v":1.49},{"x":93,"y":-1953,"v":1.49},{"x":186,"y":-1953,"v":1.49},{"x":279,"y":-1953,"v":1.49},{"x":372,"y":-1953,"v":1.49},{"x":465,"y":-1953,"v":1.49},{"x":558,"y":-1953,"v":1.49},{"x":651,"y":-1953,"v":1.49},{"x":744,"y":-1953,"v":1.49},{"x":837,"y":-1953,"v":1.49},{"x":930,"y":-1953,"v":1.49},{"x":1023,"y":-1953,"v":1.49},{"x":1116,"y":-1953,"v":1.49},{"x":1209,"y":-1953,"v":1.49},{"x":1302,"y":-1953,"v":1.49},{"x":1395,"y":-1953,"v":1.49},{"x":1488,"y":-1953,"v":1.49},{"x":1581,"y":-1953,"v":1.49},{"x":1674,"y":-1953,"v":1.49},{"x":1767,"y":-1953,"v":1.49},{"x":1860,"y":-1953,"v":1.49},{"x":1953,"y":-1953,"v":1.49}
]},"mark":{"type":"rect","width":11,"height":11,"clip":true},"encoding":{"x":{"field":"x","type":"quantitative","scale":{"domain":[-2000,2000],"nice":false,"zero":false},"axis":{"values":[-1000,0,1000],"labelExpr":"''+datum.value","title":"Distance (m)","titlePadding":14,"labelPadding":6}},"y":{"field":"y","type":"quantitative","scale":{"domain":[-2000,2000],"nice":false,"zero":false},"axis":{"values":[-1000,0,1000],"labelExpr":"''+datum.value","tickSize":9,"title":"Distance (m)","titlePadding":15,"labelPadding":8}},"color":{"field":"v","type":"quantitative","legend":null,"scale":{"type":"threshold","domain":[0.3,0.382,0.465,0.547,0.629,0.711,0.794,0.876,0.958,1.04,1.122,1.204,1.286,1.368,1.45,1.532],"range":["#ffffff","#E2E6C0","#E2E48A","#E3DB7C","#E3CC6E","#E2BC60","#DFB055","#DAA34E","#D69B4A","#CF8F45","#C8823F","#C0723A","#B9613C","#AA4A39","#A0373D","#98243D","#8E0A3C"]}}}},{"width":23,"height":447,"title":{"text":"Semi-variance","fontSize":15.5,"fontWeight":"normal","color":"#222","anchor":"start","offset":12,"dx":-49},"data":{"values":[{"lo":0.3,"hi":0.382,"v":0.34},{"lo":0.382,"hi":0.465,"v":0.42},{"lo":0.465,"hi":0.547,"v":0.51},{"lo":0.547,"hi":0.629,"v":0.59},{"lo":0.629,"hi":0.711,"v":0.67},{"lo":0.711,"hi":0.794,"v":0.75},{"lo":0.794,"hi":0.876,"v":0.835},{"lo":0.876,"hi":0.958,"v":0.92},{"lo":0.958,"hi":1.04,"v":1.0},{"lo":1.04,"hi":1.122,"v":1.08},{"lo":1.122,"hi":1.204,"v":1.16},{"lo":1.204,"hi":1.286,"v":1.25},{"lo":1.286,"hi":1.368,"v":1.33},{"lo":1.368,"hi":1.45,"v":1.41},{"lo":1.45,"hi":1.532,"v":1.49},{"lo":1.532,"hi":1.614,"v":1.57}]},"mark":{"type":"rect","strokeWidth":0.6},"encoding":{"y":{"field":"lo","type":"quantitative","scale":{"domain":[0.3,1.614],"nice":false,"zero":false},"axis":{"orient":"right","values":[0.4,0.6,0.8,1.0,1.2,1.4,1.6],"format":".1f","title":null,"tickSize":6,"labelPadding":5}},"y2":{"field":"hi"},"color":{"field":"v","type":"quantitative","legend":null,"scale":{"type":"threshold","domain":[0.3,0.382,0.465,0.547,0.629,0.711,0.794,0.876,0.958,1.04,1.122,1.204,1.286,1.368,1.45,1.532],"range":["#ffffff","#E2E6C0","#E2E48A","#E3DB7C","#E3CC6E","#E2BC60","#DFB055","#DAA34E","#D69B4A","#CF8F45","#C8823F","#C0723A","#B9613C","#AA4A39","#A0373D","#98243D","#8E0A3C"]}},"stroke":{"field":"v","type":"quantitative","legend":null,"scale":{"type":"threshold","domain":[0.3,0.382,0.465,0.547,0.629,0.711,0.794,0.876,0.958,1.04,1.122,1.204,1.286,1.368,1.45,1.532],"range":["#ffffff","#E2E6C0","#E2E48A","#E3DB7C","#E3CC6E","#E2BC60","#DFB055","#DAA34E","#D69B4A","#CF8F45","#C8823F","#C0723A","#B9613C","#AA4A39","#A0373D","#98243D","#8E0A3C"]}}}}],"resolve":{"scale":{"color":"independent"}}}
